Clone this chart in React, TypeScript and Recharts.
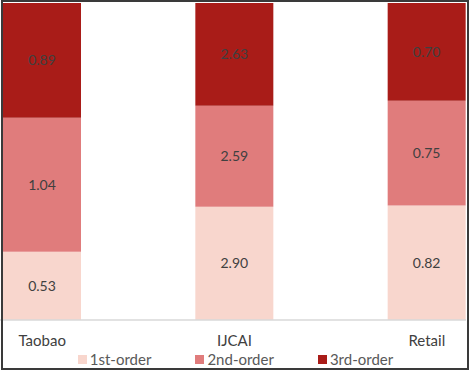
import { Bar, BarChart, LabelList, XAxis, YAxis } from "recharts";

const CATEGORIES = ["Taobao", "IJCAI", "Retail"];
const FIRST_ORDER = [0.53, 2.9, 0.82];
const SECOND_ORDER = [1.04, 2.59, 0.75];
const THIRD_ORDER = [0.89, 2.63, 0.7];

const SERIES = [
  { key: "first", label: "1st-order", color: "#F8D6CD" },
  { key: "second", label: "2nd-order", color: "#E07C7C" },
  { key: "third", label: "3rd-order", color: "#A91C18" },
];

const data = CATEGORIES.map((name, i) => ({
  name,
  first: FIRST_ORDER[i],
  second: SECOND_ORDER[i],
  third: THIRD_ORDER[i],
}));

const FONT = "Lato, 'Open Sans', sans-serif";

export default function App() {
  return (
    <div
      style={{
        position: "fixed",
        left: 0,
        top: 0,
        width: 471,
        height: 372,
        background: "#fff",
        fontFamily: FONT,
      }}
    >
      <BarChart
        width={466}
        height={350}
        data={data}
        stackOffset="expand"
        barSize={78}
        margin={{ top: 3, right: -57, bottom: 0, left: -54 }}
      >
        <XAxis
          dataKey="name"
          axisLine={{ stroke: "#d9d9d9", strokeWidth: 1.5 }}
          tickLine={false}
          tickSize={0}
          tickMargin={15}
          height={30}
          interval={0}
          tick={{ fill: "#404040", fontSize: 15, fontFamily: FONT }}
        />
        <YAxis hide domain={[0, 1]} />
        {SERIES.map((s) => (
          <Bar key={s.key} dataKey={s.key} stackId="a" fill={s.color} isAnimationActive={false}>
            <LabelList
              dataKey={s.key}
              position="center"
              formatter={(v: number) => Number(v).toFixed(2)}
              fill="#404040"
              fontSize={14}
              fontFamily={FONT}
            />
          </Bar>
        ))}
      </BarChart>
      <div
        style={{
          position: "absolute",
          left: 0,
          top: 351,
          width: 471,
          display: "flex",
          justifyContent: "center",
          gap: 44,
          fontSize: 15,
          color: "#595959",
          lineHeight: "17px",
        }}
      >
        {SERIES.map((s) => (
          <span key={s.key} style={{ display: "flex", alignItems: "center", gap: 3 }}>
            <span style={{ width: 9, height: 9, background: s.color, display: "inline-block" }} />
            {s.label}
          </span>
        ))}
      </div>
      <div
        style={{
          position: "absolute",
          left: 1,
          top: 0,
          width: 468,
          height: 370,
          boxSizing: "border-box",
          border: "2px solid #3a3a3a",
          pointerEvents: "none",
        }}
      />
    </div>
  );
}
